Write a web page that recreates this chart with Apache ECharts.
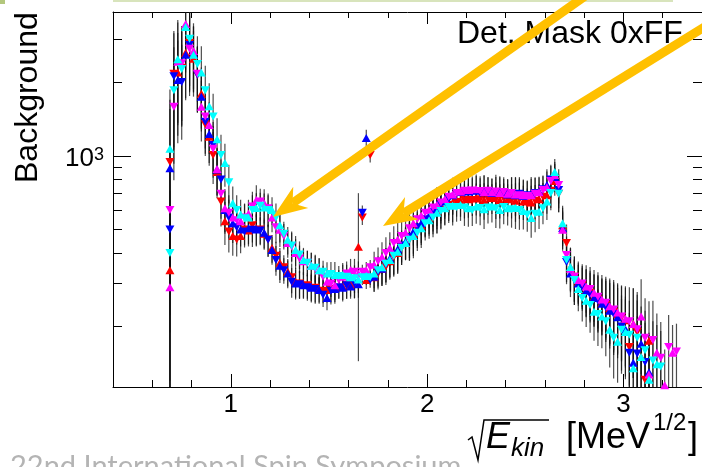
<!DOCTYPE html>
<html><head><meta charset="utf-8">
<script src="https://cdn.jsdelivr.net/npm/echarts@6/dist/echarts.min.js"></script>
<style>html,body{margin:0;padding:0;background:#fff;}#c{width:702px;height:467px;}</style>
</head><body><div id="c"></div>
<script>
// ---- bin centres (sqrt(E_kin) in MeV^1/2) ----
const xUp = [0.69,0.73,0.77,0.81,0.85,0.89,0.93,0.97,1.01,1.05,
  1.09,1.13,1.17,1.21,1.25,1.29,1.33,1.37,1.41,1.45,
  1.49,1.53,1.57,1.61,1.65,1.69,1.73,1.77,1.81,1.85,
  1.89,1.93,1.97,2.01,2.05,2.09,2.13,2.17,2.21,2.25,
  2.29,2.33,2.37,2.41,2.45,2.49,2.53,2.57,2.61,2.65,
  2.69,2.73,2.77,2.81,2.85,2.89,2.93,2.97,3.01,3.05,
  3.09,3.13,3.17,3.21,3.25];
const xDown = [0.69,
  0.71,0.75,0.79,0.83,0.87,0.91,0.95,0.99,1.03,1.07,
  1.11,1.15,1.19,1.23,1.27,1.31,1.35,1.39,1.43,1.47,
  1.51,1.55,1.59,1.63,1.67,1.71,1.75,1.79,1.83,1.87,
  1.91,1.95,1.99,2.03,2.07,2.11,2.15,2.19,2.23,2.27,
  2.31,2.35,2.39,2.43,2.47,2.51,2.55,2.59,2.63,2.67,
  2.71,2.75,2.79,2.83,2.87,2.91,2.95,2.99,3.03,3.07,
  3.11,3.15,3.19,3.23,3.27];

// ---- background counts ----
const redUp = [340,2200,2650,2500,1800,1200,860,540,470,470,
  495,505,480,420,365,335,305,298,292,285,
  282,290,292,298,424,310,318,345,370,400,
  440,480,520,560,590,615,645,655,665,670,
  660,672,660,665,655,650,645,665,690,790,
  520,350,305,282,265,250,238,225,212,205,
  150,175,null,null,null];
const redDown = [945,
  2170,2300,2900,2150,1350,1010,650,490,455,500,
  520,500,455,390,350,318,300,295,288,280,
  285,288,295,300,560,1010,330,352,385,420,
  455,500,545,575,600,630,648,660,660,665,
  668,665,670,660,665,640,655,680,720,700,
  440,320,295,275,258,245,230,218,165,190,
  121,null,null,null,null];
const blueUp = [890,2050,2600,2620,1750,1230,880,600,530,500,
  505,500,485,412,355,330,300,295,288,282,
  262,285,288,292,298,1185,320,345,380,415,
  445,490,530,570,610,650,690,712,715,720,
  710,705,712,695,690,685,700,715,760,820,
  507,330,300,280,262,248,232,218,195,142,
  170,130,null,null,null];
const blueDown = [500,
  2120,2010,2850,2150,1380,1110,800,560,510,490,
  498,495,453,375,340,305,298,290,285,270,
  280,290,295,300,585,310,335,360,395,430,
  465,510,550,590,630,665,705,705,710,705,
  715,700,700,705,700,690,705,730,800,726,
  368,310,290,270,255,240,225,200,156,155,
  143,null,null,null,null];
const magentaUp = [290,2430,3470,2690,1590,1340,885,610,560,540,
  580,660,640,560,498,440,400,370,355,340,
  305,295,320,341,330,340,358,385,420,455,
  485,530,570,600,630,665,695,715,725,730,
  712,710,705,700,695,690,690,710,745,835,
  498,345,310,292,275,258,242,228,215,205,
  220,127,156,115,156];
const magentaDown = [600,
  1590,2400,2750,2170,1450,1070,700,585,545,560,
  620,650,610,510,470,425,380,365,345,320,
  300,310,330,335,335,350,370,400,440,470,
  505,550,585,615,645,680,705,720,722,718,
  720,715,712,705,690,685,700,725,790,760,
  393,320,300,285,265,250,235,220,210,195,
  180,176,149,165,158];
const cyanUp = [1070,2490,3380,2600,2200,1600,1170,935,640,575,
  560,612,615,600,520,453,412,375,355,340,
  330,325,325,318,312,322,330,350,375,405,
  440,470,505,545,585,610,625,630,610,620,
  605,620,600,610,612,595,557,590,650,860,
  530,351,285,255,230,220,194,173,190,135,
  150,121,140,null,null];
const cyanDown = [400,
  1860,2270,3020,2380,1860,1450,1010,780,600,556,
  600,625,600,560,480,430,395,365,348,335,
  328,322,320,315,318,318,340,362,390,420,
  453,485,530,560,595,618,618,615,600,612,
  615,610,618,605,600,575,580,610,705,700,
  375,310,262,245,225,210,180,194,185,180,
  160,145,137,null,null];

// ---- relative statistical errors per bin ----
const errUp = [0.75,0.45,0.35,0.3,0.28,0.24,0.22,0.2,0.17,0.15,
  0.14,0.15,0.14,0.13,0.15,0.13,0.14,0.12,0.13,0.12,
  0.11,0.13,0.12,0.11,0.12,0.08,0.13,0.15,0.16,0.18,
  0.15,0.19,0.17,0.16,0.18,0.15,0.17,0.14,0.16,0.15,
  0.17,0.14,0.16,0.15,0.18,0.16,0.17,0.15,0.16,0.13,
  0.18,0.2,0.19,0.22,0.24,0.26,0.3,0.32,0.36,0.4,
  0.42,0.45,0.45,0.4,0.3];
const errDown = [0.8,
  0.5,0.42,0.36,0.3,0.26,0.24,0.21,0.18,0.15,0.14,
  0.15,0.13,0.15,0.14,0.12,0.14,0.13,0.12,0.13,0.11,
  0.12,0.1,0.12,0.13,0.07,0.07,0.14,0.16,0.17,0.15,
  0.18,0.16,0.15,0.17,0.16,0.14,0.13,0.16,0.14,0.15,
  0.14,0.17,0.15,0.16,0.17,0.15,0.16,0.14,0.15,0.16,
  0.19,0.21,0.2,0.23,0.26,0.28,0.32,0.34,0.38,0.42,
  0.45,0.45,0.4,0.35,0.3];
const errOverrides = [{series:'redUp', x:1.65, err:0.66}];

// ---- ticks / labels ----
const xMajorTicks = [1,2,3];
const xMinorTicks = [0.6,0.8,1.2,1.4,1.6,1.8,2.2,2.4,2.6,2.8,3.2];
const yMajorTicks = [1000];
const yMinorTicks = [200,300,400,500,600,700,800,900,2000,3000];
const yAxisTitle = 'Background';
const panelLabel = 'Det. Mask 0xFF';
const footerText = '22nd International Spin Symposium';

const X_MIN = 0.4, X_MAX = 3.4, Y_MIN = 113, Y_MAX = 3890;
const FONT = 'Liberation Sans, Arial, sans-serif';

const groups = [
  {key:'red', color:'#ff0000', up:redUp, down:redDown},
  {key:'blue', color:'#0000ff', up:blueUp, down:blueDown},
  {key:'magenta', color:'#ff00ff', up:magentaUp, down:magentaDown},
  {key:'cyan', color:'#00ffff', up:cyanUp, down:cyanDown}
];

function pts(xs, vs){ const o=[]; xs.forEach((x,i)=>{ if(vs[i]!=null) o.push([x, vs[i]]); }); return o; }
function bars(key, xs, vs, errs){
  const o=[];
  xs.forEach((x,i)=>{
    const v=vs[i]; if(v==null) return;
    let e=errs[i];
    errOverrides.forEach(ov=>{ if(ov.series===key && Math.abs(ov.x-x)<1e-6) e=ov.err; });
    o.push([x, v, Math.max(v*(1-e), Y_MIN), Math.min(v*(1+e), Y_MAX)]);
  });
  return o;
}
function renderBar(params, api){
  const x=api.value(0), lo=api.value(2), hi=api.value(3);
  const a=api.coord([x, lo]), b=api.coord([x, hi]);
  return {type:'line', shape:{x1:a[0], y1:a[1], x2:b[0], y2:b[1]},
    style:{stroke:'#111', lineWidth:1.2, opacity:0.75}};
}

const series = [];
groups.forEach(g=>{
  series.push({type:'custom', name:g.key+'UpErr', renderItem:renderBar, clip:true, silent:true, z:2,
    encode:{x:0, y:1}, data:bars(g.key+'Up', xUp, g.up, errUp)});
  series.push({type:'custom', name:g.key+'DownErr', renderItem:renderBar, clip:true, silent:true, z:2,
    encode:{x:0, y:1}, data:bars(g.key+'Down', xDown, g.down, errDown)});
});
groups.forEach(g=>{
  series.push({type:'scatter', name:g.key+'Up', symbol:'triangle', symbolSize:[9,8], silent:true, z:3,
    itemStyle:{color:g.color, opacity:1}, data:pts(xUp, g.up)});
  series.push({type:'scatter', name:g.key+'Down', symbol:'triangle', symbolSize:[9,8], symbolRotate:180, silent:true, z:3,
    itemStyle:{color:g.color, opacity:1}, data:pts(xDown, g.down)});
});

function xAx(pos, ticks, len, showLine, showLabel){
  return {type:'value', min:X_MIN, max:X_MAX, position:pos,
    axisLine:{show:showLine, onZero:false, lineStyle:{color:'#000', width:1}},
    axisTick:{show:true, inside:true, length:len, customValues:ticks, lineStyle:{color:'#000', width:1}},
    axisLabel:{show:showLabel, customValues:ticks, fontSize:26, color:'#000', fontFamily:FONT, margin:5},
    splitLine:{show:false}};
}
function yAx(pos, ticks, len, showLine, showLabel){
  return {type:'log', logBase:10, min:Y_MIN, max:Y_MAX, position:pos,
    axisLine:{show:showLine, onZero:false, lineStyle:{color:'#000', width:1}},
    axisTick:{show:true, inside:true, length:len, customValues:ticks, lineStyle:{color:'#000', width:1}},
    axisLabel:{show:showLabel, customValues:ticks, margin:9, padding:[6,0,0,0],
      formatter:()=>'{a|10}{b|3}',
      rich:{a:{fontSize:26, color:'#000', fontFamily:FONT}, b:{fontSize:18, color:'#000', fontFamily:FONT, verticalAlign:'top'}}},
    splitLine:{show:false}, minorSplitLine:{show:false}};
}

function arrow(tail, tip){
  const dx=tip[0]-tail[0], dy=tip[1]-tail[1], len=Math.hypot(dx,dy);
  const ux=dx/len, uy=dy/len, px=-uy, py=ux;
  const L=34, W=13, N=24;
  const bx=tip[0]-L*ux, by=tip[1]-L*uy;
  const nx=tip[0]-N*ux, ny=tip[1]-N*uy;
  return [
    {type:'line', z:100, shape:{x1:tail[0], y1:tail[1], x2:nx, y2:ny}, style:{stroke:'#FFC000', lineWidth:9}},
    {type:'polygon', z:100, shape:{points:[tip,[bx+W*px,by+W*py],[nx,ny],[bx-W*px,by-W*py]]}, style:{fill:'#FFC000'}}
  ];
}
function txt(text, x, y, size, opts){
  opts = opts || {};
  return Object.assign({type:'text', x:x, y:y, z:50, silent:true,
    style:{text:text, fontSize:size, fontFamily:opts.family||FONT, fontStyle:opts.italic?'italic':'normal',
      fill:opts.fill||'#000', align:opts.align||'left', textAlign:opts.align||'left',
      verticalAlign:opts.va||'middle', textVerticalAlign:opts.va||'middle'}}, opts.extra||{});
}

const graphics = [
  {type:'rect', z:0, shape:{x:113, y:0, width:560, height:2}, style:{fill:'#d8e4bc'}},
  {type:'rect', z:0, shape:{x:0, y:0, width:5, height:4}, style:{fill:'#b3c77d'}},
  txt(yAxisTitle, 28, 183, 32, {extra:{rotation:Math.PI/2}}),
  txt(panelLabel, 457, 34, 32),
  {type:'polyline', z:50, shape:{points:[[468,440],[472,437],[478,460],[484,420],[549,420]]}, style:{stroke:'#000', lineWidth:1.5, fill:null}},
  txt('E', 486, 438, 36, {italic:true}),
  txt('kin', 511, 449, 26, {italic:true}),
  txt('[MeV', 566, 438, 36),
  txt('1/2', 653, 423, 24),
  txt(']', 688, 438, 36),
  txt(footerText, 10, 452, 29, {family:'Lato, Open Sans, sans-serif', fill:'#b4b4b4', va:'top'})
].concat(arrow([588,-6],[273,217]), arrow([714,21],[383,226]));

const option = {
  animation:false,
  textStyle:{fontFamily:FONT},
  grid:{left:113, top:12, right:0, bottom:80, containLabel:false, show:false},
  xAxis:[xAx('bottom', xMajorTicks, 13, true, true), xAx('bottom', xMinorTicks, 7, false, false),
         xAx('top', xMajorTicks, 12, true, false), xAx('top', xMinorTicks, 6, false, false)],
  yAxis:[yAx('left', yMajorTicks, 18, true, true), yAx('left', yMinorTicks, 9, false, false),
         yAx('right', yMajorTicks, 15, true, false), yAx('right', yMinorTicks, 9, false, false)],
  series:series,
  graphic:{elements:graphics}
};
const chart = echarts.init(document.getElementById('c'));
chart.setOption(option);
</script>
</body></html>
